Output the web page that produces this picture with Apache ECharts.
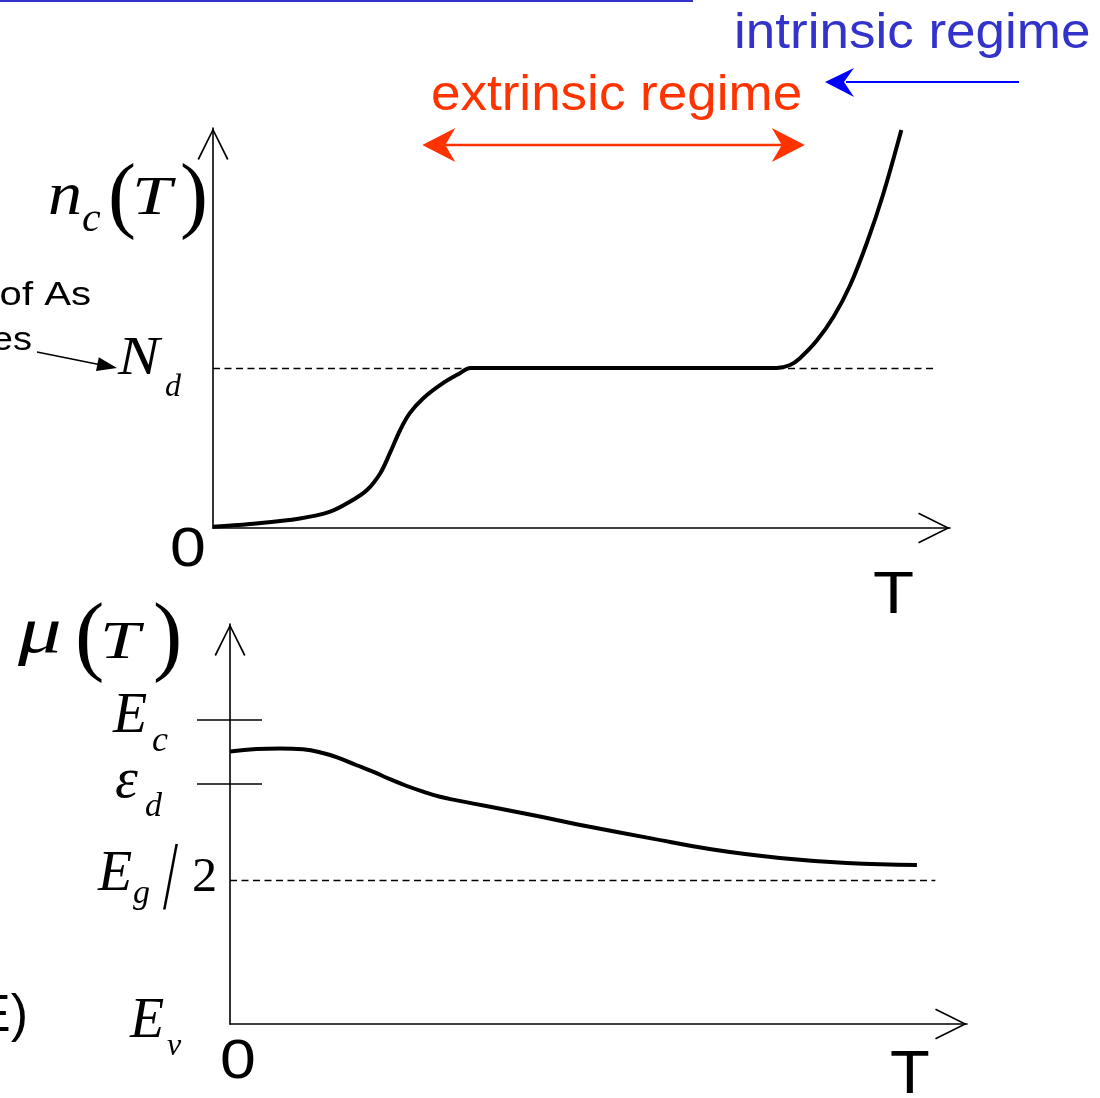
<!DOCTYPE html>
<html>
<head>
<meta charset="utf-8">
<script src="https://cdn.jsdelivr.net/npm/echarts@6/dist/echarts.min.js"></script>
<style>
  html, body { margin: 0; padding: 0; background: #fff; }
  #c { width: 1100px; height: 1098px; }
</style>
</head>
<body>
<div id="c"></div>
<script>
// Carrier density n_c(T) in the conduction band (arbitrary units)
const nTemp = [0, 5.0, 11.8, 15.9, 18.6, 20.9, 22.7, 24.0, 25.4, 26.7, 28.5, 31.2, 33.5, 34.9, 50, 65, 76.5, 78.3, 79.6, 81.9, 84.2, 86.4, 88.7, 90.9, 93.4];
const nConc = [0.3, 1.0, 2.4, 4.1, 6.6, 9.5, 13.7, 18.7, 24.5, 28.7, 32.4, 36.2, 38.7, 40, 40, 40, 40, 40.75, 42.4, 46.8, 52.8, 60.5, 71.2, 83.25, 99.5];

// Chemical potential mu(T) (arbitrary units, E_v = 0)
const muTemp = [0, 3.6, 6.8, 9.9, 12.7, 14.9, 17.1, 19.4, 21.7, 24.0, 26.2, 28.5, 30.8, 35.3, 39.8, 44.3, 48.8, 56.6, 65.5, 74.6, 83.7, 93.2];
const muVal = [68.1, 68.75, 68.9, 68.7, 67.7, 66.4, 64.75, 63.1, 61.2, 59.5, 58.1, 56.8, 55.9, 54.3, 52.7, 51.0, 49.3, 46.6, 43.6, 41.5, 40.25, 39.75];

// Axis ranges and reference levels
const tempRange = [0, 100];
const valueRange = [0, 100];
const donorLevel = 40;                 // N_d
const energyLevels = [76, 60, 36, 0];  // E_c, eps_d, E_g/2, E_v
const dashEnd = [98, 95.7];            // where the dashed guide lines stop
const extrinsicRange = [28.4, 80.3];   // span of the extrinsic regime arrow

const chart = echarts.init(document.getElementById('c'));

// open "V" arrowhead for the axes, tip pointing up
const chevron = 'path://M0,31L15.5,0L31,31L29.5,31.8L15.5,3.5L1.5,31.8Z';
function arrowAxis() {
  return {
    show: true, onZero: true,
    symbol: ['none', chevron], symbolSize: [31, 32], symbolOffset: [0, -16],
    lineStyle: { color: '#000', width: 1.6 }
  };
}
function baseAxis(gi, range) {
  return {
    type: 'value', gridIndex: gi, min: range[0], max: range[1],
    axisLine: arrowAxis(), axisTick: { show: false }, axisLabel: { show: false },
    splitLine: { show: false }
  };
}
function dashed(y, xEnd) {
  return {
    silent: true, symbol: ['none', 'none'], label: { show: false },
    lineStyle: { color: '#000', width: 1.4, type: [7, 4.5] },
    emphasis: { disabled: true },
    data: [[{ coord: [0, y] }, { coord: [xEnd, y] }]]
  };
}

chart.setOption({
  animation: false,
  grid: [
    { left: 213, right: 150, top: 128, height: 400, containLabel: false, outerBoundsMode: 'none' },
    { left: 230, right: 133, top: 624, height: 400, containLabel: false, outerBoundsMode: 'none' }
  ],
  xAxis: [baseAxis(0, tempRange), baseAxis(1, tempRange)],
  yAxis: [baseAxis(0, valueRange), baseAxis(1, valueRange)],
  series: [
    {
      type: 'line', xAxisIndex: 0, yAxisIndex: 0, z: 3,
      data: nTemp.map((t, i) => [t, nConc[i]]),
      showSymbol: false, symbol: 'none', smooth: 0.35, silent: true,
      lineStyle: { color: '#000', width: 4 },
      markLine: dashed(donorLevel, dashEnd[0])
    },
    {
      type: 'line', xAxisIndex: 1, yAxisIndex: 1, z: 3,
      data: muTemp.map((t, i) => [t, muVal[i]]),
      showSymbol: false, symbol: 'none', smooth: 0.45, silent: true,
      lineStyle: { color: '#000', width: 4 },
      markLine: dashed(energyLevels[2], dashEnd[1])
    }
  ]
});

// ---- labels and annotations, anchored to the axes ----
const px = (g, x, y) => chart.convertToPixel({ gridIndex: g }, [x, y]);
const SERIF = '"Liberation Serif", "Times New Roman", serif';
const SANS = '"Liberation Sans", Arial, sans-serif';

function txt(text, left, base, size, opt) {
  opt = opt || {};
  const font = (opt.italic ? 'italic ' : '') + size + 'px ' + (opt.sans ? SANS : SERIF);
  return {
    type: 'text', x: left, y: base - 0.31 * size, scaleX: opt.sx || 1, silent: true, z: 10,
    style: { text: text, x: 0, y: 0, font: font, fill: opt.color || '#000',
             align: opt.align || 'left', verticalAlign: 'middle' }
  };
}
function seg(x1, y1, x2, y2, color, w) {
  return { type: 'line', silent: true, z: 10, shape: { x1, y1, x2, y2 },
           style: { stroke: color, lineWidth: w } };
}
function head(points, color) {
  return { type: 'polygon', silent: true, z: 10, shape: { points }, style: { fill: color, stroke: null } };
}

const O0 = px(0, 0, 0), T0 = px(0, 0, valueRange[1]), E0 = px(0, tempRange[1], 0);
const yNd = px(0, 0, donorLevel)[1];
const O1 = px(1, 0, 0), T1 = px(1, 0, valueRange[1]), E1 = px(1, tempRange[1], 0);
const ly = energyLevels.map(v => px(1, 0, v)[1]);

const RED = '#ff3300', BLUE_TXT = '#3333cc', BLUE = '#0000ff';
const g = [];

// n_c(T)
g.push(txt('n', T0[0] - 165, T0[1] + 89, 62, { italic: true, sx: 1.1 }));
g.push(txt('c', T0[0] - 131, T0[1] + 105, 42, { italic: true }));
g.push(txt('(', T0[0] - 105, T0[1] + 98, 84));
g.push(txt('T', T0[0] - 81, T0[1] + 89, 54, { italic: true, sx: 1.32 }));
g.push(txt(')', T0[0] - 33, T0[1] + 98, 84));

// N_d with its pointer
g.push(txt('N', O0[0] - 95, yNd + 9, 54, { italic: true, sx: 1.15 }));
g.push(txt('d', O0[0] - 48, yNd + 30, 32, { italic: true }));
g.push(txt('of As', O0[0] - 122, yNd - 62, 34, { sans: true, align: 'right', sx: 1.18 }));
g.push(txt('es', O0[0] - 181, yNd - 17, 34, { sans: true, align: 'right', sx: 1.12 }));
g.push(seg(O0[0] - 176, yNd - 16, O0[0] - 114, yNd - 3.6, '#000', 1.5));
g.push(head([[O0[0] - 96, yNd], [O0[0] - 117, yNd + 3], [O0[0] - 114.2, yNd - 10.8]], '#000'));

// top axes labels
g.push(txt('0', O0[0] - 43, O0[1] + 40, 56, { sans: true, sx: 1.15 }));
g.push(txt('T', E0[0] - 77, E0[1] + 87, 60, { sans: true, sx: 1.12 }));

// mu(T)
g.push(txt('\u03bc', T1[0] - 212, T1[1] + 31, 66, { italic: true, sx: 1.32 }));
g.push(txt('(', T1[0] - 155, T1[1] + 44, 88));
g.push(txt('T', T1[0] - 130, T1[1] + 36, 52, { italic: true, sx: 1.38 }));
g.push(txt(')', T1[0] - 77, T1[1] + 44, 88));

// energy level labels
g.push(txt('E', O1[0] - 117, ly[0] + 15, 56, { italic: true }));
g.push(txt('c', O1[0] - 78, ly[0] + 33, 36, { italic: true }));
g.push(txt('\u03b5', O1[0] - 115, ly[1] + 16, 58, { italic: true }));
g.push(txt('d', O1[0] - 85, ly[1] + 34, 34, { italic: true }));
g.push(txt('E', O1[0] - 132, ly[2] + 13, 56, { italic: true }));
g.push(txt('g', O1[0] - 97, ly[2] + 25, 34, { italic: true }));
g.push(txt('/', O1[0] - 67, ly[2] + 33, 98, { sx: 0.55 }));
g.push(txt('2', O1[0] - 38, ly[2] + 13, 48, { sx: 1.05 }));
g.push(txt('E', O1[0] - 100, ly[3] + 16, 56, { italic: true }));
g.push(txt('v', O1[0] - 63, ly[3] + 33, 32, { italic: true }));
g.push(seg(O1[0] - 33, ly[0], O1[0] + 32, ly[0], '#000', 1.6));
g.push(seg(O1[0] - 33, ly[1], O1[0] + 32, ly[1], '#000', 1.6));

// bottom axes labels
g.push(txt('0', O1[0] - 10, O1[1] + 56, 56, { sans: true, sx: 1.15 }));
g.push(txt('T', E1[0] - 77, E1[1] + 71, 62, { sans: true, sx: 1.05 }));
g.push(txt('E)', O1[0] - 202, O1[1] + 9, 52, { sans: true, align: 'right' }));

// regime annotations
g.push(seg(0, 1, 693, 1, BLUE_TXT, 2));
g.push(txt('intrinsic regime', 734, 50, 50, { sans: true, color: BLUE_TXT, sx: 1.06 }));
g.push(seg(1019, 82, 846, 82, BLUE, 2));
g.push(head([[825, 82], [854, 68], [844, 82], [854, 97]], BLUE));

g.push(txt('extrinsic regime', 431, 112, 50, { sans: true, color: RED, sx: 1.06 }));
const xa = px(0, extrinsicRange[0], 0)[0], xb = px(0, extrinsicRange[1], 0)[0], ya = 145;
g.push(seg(xa + 22, ya, xb - 22, ya, RED, 2.5));
g.push(head([[xa, ya], [xa + 33, ya - 17], [xa + 23, ya], [xa + 33, ya + 17]], RED));
g.push(head([[xb, ya], [xb - 33, ya - 17], [xb - 23, ya], [xb - 33, ya + 17]], RED));

chart.setOption({ graphic: { elements: g } });
</script>
</body>
</html>
